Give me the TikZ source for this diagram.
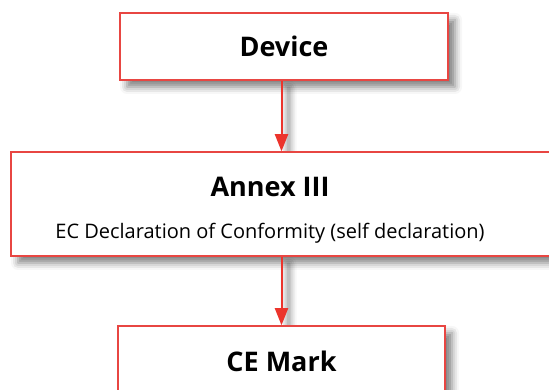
\documentclass[tikz,border=0pt]{standalone}
\usepackage{fontspec}
\setmainfont{Open Sans}
\usetikzlibrary{arrows.meta, shadows.blur, backgrounds}
\definecolor{boxred}{RGB}{232,70,66}
\definecolor{arrowred}{RGB}{236,52,44}

\begin{document}
\begin{tikzpicture}[x=1pt, y=1pt,
  softshadow/.style = {blur shadow = {shadow xshift = 7pt, shadow yshift = -7pt,
      shadow blur radius = 7pt, shadow opacity = 50}},
  stepbox/.style = {draw = boxred, line width = 1.5pt, fill = white, softshadow},
  flowarrow/.style = {draw = arrowred, line width = 2pt,
    -{Triangle[length = 17pt, width = 13pt]}},
  boldtext/.style = {font = \fontsize{27}{31}\selectfont\bfseries},
  lighttext/.style = {font = \fontsize{20}{24}\selectfont}]
\useasboundingbox (0, 0) rectangle (549, 390);
\clip (0, 0) rectangle (549, 390);

\node [stepbox, minimum width = 328pt, minimum height = 67pt, boldtext] (device) at (284, 343.5) {Device};

\node [stepbox, minimum width = 554pt, minimum height = 104pt] (annex) at (288, 186) {};
\node [boldtext, anchor = base] (annextitle) at (270, 193) {Annex III};
\node [lighttext, anchor = base] (annexsub) at (270, 151) {EC Declaration of Conformity (self declaration)};

\node [stepbox, minimum width = 327pt, minimum height = 70pt, boldtext] (cemark) at (281.5, 29) {CE Mark};

% arrow shadows go under the boxes
\begin{pgfonlayer}{background}
\fill [white, softshadow] ([xshift = -1pt]device.south -| cemark.north) rectangle ([xshift = 1pt]cemark.north |- annex.north);
\fill [white, softshadow] ([xshift = -1pt]cemark.north |- annex.south) rectangle ([xshift = 1pt]cemark.north);
\end{pgfonlayer}
\path [flowarrow] (device.south -| cemark.north) -- (cemark.north |- annex.north);
\path [flowarrow] (cemark.north |- annex.south) -- (cemark.north);

\end{tikzpicture}
\end{document}
